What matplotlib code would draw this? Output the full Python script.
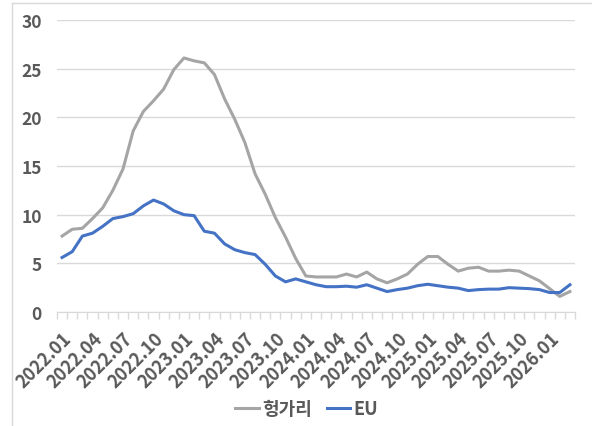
import matplotlib
matplotlib.use('Agg')
import matplotlib.pyplot as plt
from matplotlib.lines import Line2D

plt.rcParams['font.family'] = ['Noto Sans CJK KR', 'DejaVu Sans']

# mois 2022.01 -> 2026.03
months = ['{}.{:02d}'.format(2022 + k // 12, k % 12 + 1) for k in range(51)]

hungary = [7.8, 8.5, 8.6, 9.6, 10.7, 12.5, 14.7, 18.6, 20.6, 21.7,
           22.9, 24.9, 26.1, 25.8, 25.6, 24.4, 21.9, 19.8, 17.4, 14.2,
           12.1, 9.7, 7.7, 5.5, 3.7, 3.6, 3.6, 3.6, 3.9, 3.6,
           4.1, 3.4, 3.0, 3.4, 3.9, 4.9, 5.7, 5.7, 4.9, 4.2,
           4.5, 4.6, 4.2, 4.2, 4.3, 4.2, 3.7, 3.2, 2.4, 1.6,
           2.1]
eu = [5.6, 6.2, 7.8, 8.1, 8.8, 9.6, 9.8, 10.1, 10.9, 11.5,
      11.1, 10.4, 10.0, 9.9, 8.3, 8.1, 7.0, 6.4, 6.1, 5.9,
      4.9, 3.7, 3.1, 3.4, 3.1, 2.8, 2.6, 2.6, 2.65, 2.55,
      2.8, 2.45, 2.1, 2.3, 2.45, 2.7, 2.85, 2.7, 2.55, 2.45,
      2.2, 2.3, 2.35, 2.35, 2.5, 2.45, 2.4, 2.3, 2.0, 2.0,
      2.8]
yticks = [0, 5, 10, 15, 20, 25, 30]

txt = '#595959'
grid = '#D9D9D9'

fig = plt.figure(figsize=(5.92, 4.27), dpi=100)
ax = fig.add_axes([57/592, 1 - 313/427, 518/592, 292/427])

x = list(range(len(months)))
ax.plot(x, hungary, color='#A5A5A5', lw=2.2, label='헝가리')
ax.plot(x, eu, color='#4472C4', lw=2.2, label='EU')

ax.set_xlim(-0.5, len(months) - 0.5)
ax.set_ylim(0, 30)
ax.set_yticks(yticks)
ax.set_yticklabels([str(v) for v in yticks], fontsize=12.5, fontweight='bold', color=txt)
ax.tick_params(axis='y', length=0, pad=11)
ax.grid(axis='y', color=grid, lw=1)
ax.set_axisbelow(True)

ax.set_xticks(x[::3])
ax.set_xticklabels(months[::3], rotation=45, ha='right', rotation_mode='anchor',
                   fontsize=13, fontweight='bold', color=txt)
ax.set_xticks([i - 0.5 for i in range(len(months) + 1)], minor=True)
ax.tick_params(axis='x', which='major', length=0, pad=12)
ax.tick_params(axis='x', which='minor', length=5, color=grid, width=1)

for s in ['top', 'right', 'left']:
    ax.spines[s].set_visible(False)
ax.spines['bottom'].set_color(grid)

leg = fig.legend(loc='center', bbox_to_anchor=(307/592, 1 - 410/427), ncol=2, frameon=False,
                 handlelength=1.3, handletextpad=0.2, columnspacing=0.8,
                 prop={'size': 13, 'weight': 'bold'})
for t in leg.get_texts():
    t.set_color(txt)

# cadre du graphique
fig.add_artist(Line2D([12/592, 12/592], [0, 1 - 4/427], color=grid, lw=1))
fig.add_artist(Line2D([12/592, 1], [1 - 4/427, 1 - 4/427], color=grid, lw=1))

fig.savefig('out.png', dpi=100)
